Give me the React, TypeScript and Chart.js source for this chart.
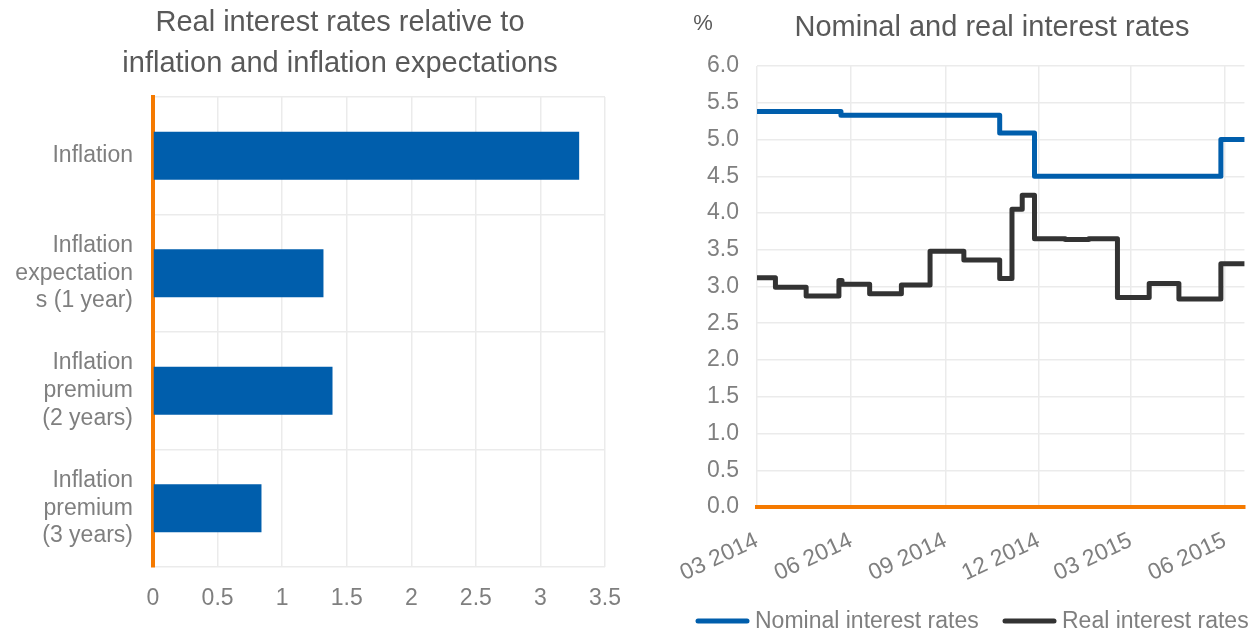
import { useEffect, useRef } from 'react';
import { Chart, registerables } from 'chart.js';

Chart.register(...registerables);

// ---- Left panel: real interest rates relative to inflation ----
const barCategories: (string | string[])[] = [
  'Inflation',
  ['Inflation', 'expectation', 's (1 year)'],
  ['Inflation', 'premium', '(2 years)'],
  ['Inflation', 'premium', '(3 years)'],
];
const barValues = [3.3, 1.32, 1.39, 0.84];
const barAxisMax = 3.5;
const barAxisStep = 0.5;
const leftTitle = ['Real interest rates relative to', 'inflation and inflation expectations'];

// ---- Right panel: nominal and real interest rates (change dates -> new level) ----
const rateStart = '2014-03-01';
const rateEnd = '2015-06-20';
const nominalDates = ['2014-03-01', '2014-05-22', '2014-10-24', '2014-11-27', '2015-05-28', '2015-06-20'];
const nominalValues = [5.38, 5.33, 5.09, 4.5, 5.0, 5.0];
const realDates = [
  '2014-03-01', '2014-03-19', '2014-04-18', '2014-05-20', '2014-05-23', '2014-06-19',
  '2014-07-20', '2014-08-17', '2014-09-19', '2014-10-24', '2014-11-05', '2014-11-15',
  '2014-11-27', '2014-12-27', '2015-01-19', '2015-02-16', '2015-03-19', '2015-04-17',
  '2015-05-28', '2015-06-20',
];
const realValues = [
  3.12, 2.99, 2.87, 3.08, 3.03, 2.9,
  3.02, 3.48, 3.36, 3.11, 4.05, 4.24,
  3.65, 3.64, 3.65, 2.85, 3.04, 2.83,
  3.31, 3.31,
];
const monthTickDates = ['2014-03-01', '2014-06-01', '2014-09-01', '2014-12-01', '2015-03-01', '2015-06-01'];
const monthTickLabels = ['03 2014', '06 2014', '09 2014', '12 2014', '03 2015', '06 2015'];
const rateAxisMax = 6;
const rateAxisStep = 0.5;
const rightTitle = 'Nominal and real interest rates';
const seriesNames = ['Nominal interest rates', 'Real interest rates'];

const FONT = '"Liberation Sans", Arial, sans-serif';
const TICK_COLOR = '#7f7f7f';
const TITLE_COLOR = '#595959';
const GRID_COLOR = '#ebebeb';
const ORANGE = '#f57a00';
const BLUE = '#005eac';
const DARK = '#333333';

const dayOffset = (d: string) => (Date.parse(d) - Date.parse(rateStart)) / 86400000;

Chart.defaults.font.family = FONT;
Chart.defaults.font.size = 23;
Chart.defaults.color = TICK_COLOR;

function LeftChart() {
  const ref = useRef<HTMLCanvasElement>(null);
  useEffect(() => {
    const titlePlugin = {
      id: 'leftTitle',
      afterDraw(chart: Chart) {
        const ctx = chart.ctx;
        ctx.save();
        ctx.font = `29px ${FONT}`;
        ctx.fillStyle = TITLE_COLOR;
        ctx.textAlign = 'center';
        ctx.textBaseline = 'middle';
        leftTitle.forEach((t, i) => ctx.fillText(t, 340, 23 + i * 41));
        ctx.restore();
      },
    };
    const chart = new Chart(ref.current!, {
      type: 'bar',
      data: {
        labels: barCategories,
        datasets: [
          {
            data: barValues,
            backgroundColor: BLUE,
            categoryPercentage: 1,
            barPercentage: 0.41,
          },
        ],
      },
      options: {
        indexAxis: 'y',
        responsive: false,
        animation: false,
        layout: { padding: { top: 97, right: 35, left: 0, bottom: 0 } },
        plugins: { legend: { display: false }, tooltip: { enabled: false }, title: { display: false } },
        scales: {
          x: {
            min: 0,
            max: barAxisMax,
            ticks: {
              stepSize: barAxisStep,
              padding: 18,
              color: TICK_COLOR,
              font: { size: 23 },
              callback: (v: any) => String(Number(v)),
            },
            grid: { color: GRID_COLOR, lineWidth: 1.5, drawTicks: false },
            border: { display: false },
            afterFit: (s: any) => {
              s.height = 65;
            },
          },
          y: {
            ticks: { padding: 20, color: TICK_COLOR, font: { size: 23, lineHeight: 1.2 } },
            grid: { color: GRID_COLOR, lineWidth: 1.5, drawTicks: false },
            border: { color: ORANGE, width: 4 },
            afterFit: (s: any) => {
              s.width = 153;
            },
          },
        },
      },
      plugins: [titlePlugin],
    });
    return () => chart.destroy();
  }, []);
  return <canvas ref={ref} width={640} height={632} style={{ position: 'absolute', left: 0, top: 0 }} />;
}

function RightChart() {
  const ref = useRef<HTMLCanvasElement>(null);
  useEffect(() => {
    const colors = [BLUE, DARK];
    const decorPlugin = {
      id: 'rightDecor',
      afterDraw(chart: Chart) {
        const ctx = chart.ctx;
        ctx.save();
        ctx.font = `29px ${FONT}`;
        ctx.fillStyle = TITLE_COLOR;
        ctx.textAlign = 'center';
        ctx.textBaseline = 'middle';
        ctx.fillText(rightTitle, 352, 28);
        ctx.font = `22px ${FONT}`;
        ctx.fillText('%', 63, 24);
        // legend
        const legendY = 621;
        const items = [55, 362];
        ctx.font = `23px ${FONT}`;
        ctx.textAlign = 'left';
        ctx.fillStyle = TICK_COLOR;
        chart.data.datasets.forEach((ds, i) => {
          const x = items[i];
          ctx.strokeStyle = colors[i];
          ctx.lineWidth = 5;
          ctx.lineCap = 'round';
          ctx.beginPath();
          ctx.moveTo(x + 3, legendY);
          ctx.lineTo(x + 52, legendY);
          ctx.stroke();
          ctx.fillText(String(ds.label), x + 60, legendY + 1);
        });
        ctx.restore();
      },
    };
    const toPoints = (dates: string[], values: number[]) =>
      dates.map((d, i) => ({ x: dayOffset(d), y: values[i] }));
    const chart = new Chart(ref.current!, {
      type: 'line',
      data: {
        datasets: [
          {
            label: seriesNames[0],
            data: toPoints(nominalDates, nominalValues),
            borderColor: BLUE,
            borderWidth: 5,
            stepped: true,
            pointRadius: 0,
            borderCapStyle: 'round',
            borderJoinStyle: 'round',
          },
          {
            label: seriesNames[1],
            data: toPoints(realDates, realValues),
            borderColor: DARK,
            borderWidth: 5,
            stepped: true,
            pointRadius: 0,
            borderCapStyle: 'round',
            borderJoinStyle: 'round',
          },
        ],
      },
      options: {
        responsive: false,
        animation: false,
        layout: { padding: { top: 66, right: 9, left: 0, bottom: 45 } },
        plugins: { legend: { display: false }, tooltip: { enabled: false }, title: { display: false } },
        scales: {
          x: {
            type: 'linear',
            min: 0,
            max: dayOffset(rateEnd),
            afterBuildTicks: (s: any) => {
              s.ticks = monthTickDates.map((d) => ({ value: dayOffset(d) }));
            },
            ticks: {
              autoSkip: false,
              minRotation: 25,
              maxRotation: 25,
              padding: 20,
              color: TICK_COLOR,
              font: { size: 23 },
              callback: (v: any) => {
                const i = monthTickDates.findIndex((d) => dayOffset(d) === v);
                return i >= 0 ? monthTickLabels[i] : '';
              },
            },
            grid: { color: GRID_COLOR, lineWidth: 1.5, drawTicks: false },
            border: { color: ORANGE, width: 4 },
            afterFit: (s: any) => {
              s.height = 80;
            },
          },
          y: {
            min: 0,
            max: rateAxisMax,
            ticks: {
              stepSize: rateAxisStep,
              padding: 18,
              color: TICK_COLOR,
              font: { size: 23 },
              callback: (v: any) => Number(v).toFixed(1),
            },
            grid: { color: GRID_COLOR, lineWidth: 1.5, drawTicks: false },
            border: { display: false },
            afterFit: (s: any) => {
              s.width = 117;
            },
          },
        },
      },
      plugins: [decorPlugin],
    });
    return () => chart.destroy();
  }, []);
  return <canvas ref={ref} width={617} height={632} style={{ position: 'absolute', left: 640, top: 0 }} />;
}

export default function App() {
  return (
    <div style={{ position: 'fixed', left: 0, top: 0, width: 1257, height: 632, background: '#ffffff' }}>
      <LeftChart />
      <RightChart />
    </div>
  );
}
